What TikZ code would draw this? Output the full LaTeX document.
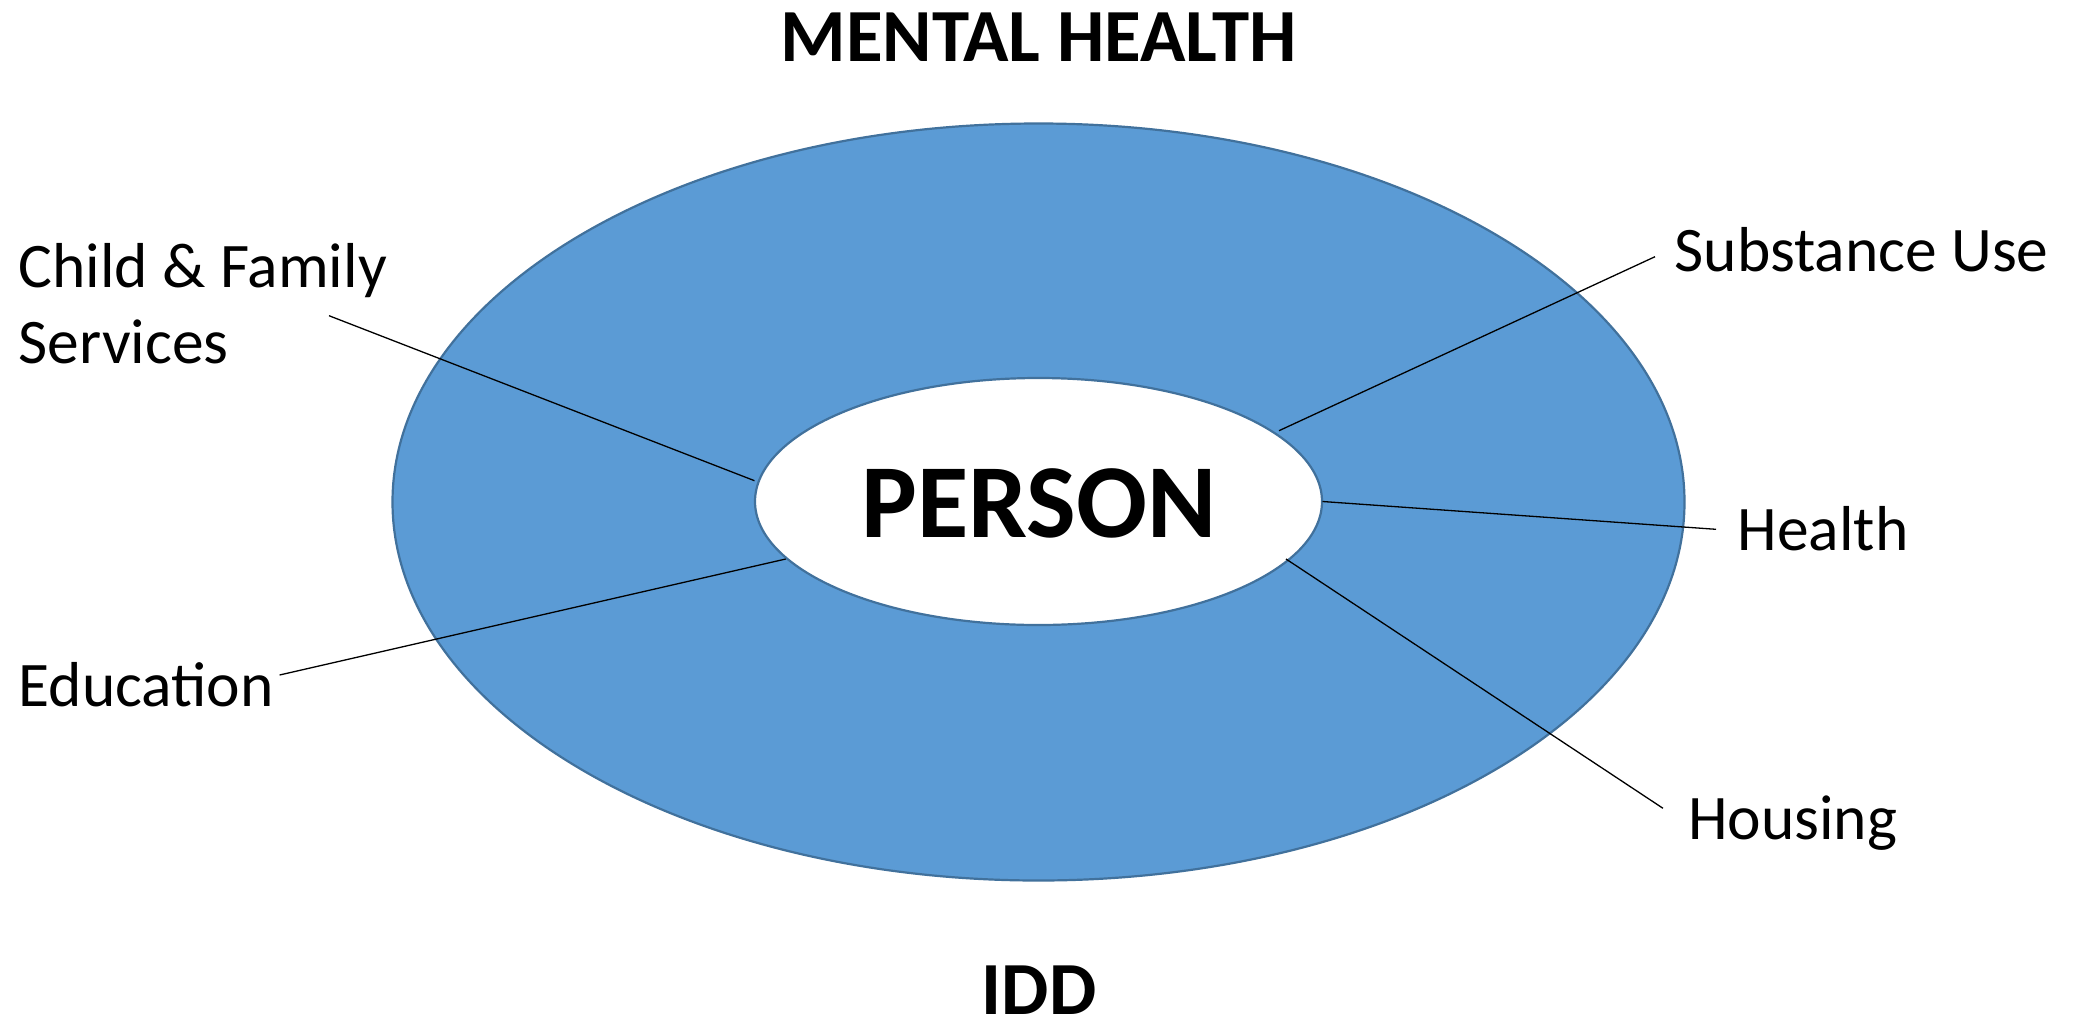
\documentclass[tikz,border=0pt]{standalone}
\usepackage{fontspec}
\setmainfont{Carlito}
\usetikzlibrary{shapes.geometric}
\definecolor{ringblue}{HTML}{5B9BD5}
\definecolor{ringedge}{HTML}{41719C}
\begin{document}
\begin{tikzpicture}[x=1pt,y=-1pt,
  ring/.style={ellipse, draw=ringedge, line width=2.2pt, fill=ringblue, minimum width=1292pt, minimum height=757pt, inner sep=0pt},
  hole/.style={ellipse, draw=ringedge, line width=2.2pt, fill=white, minimum width=567pt, minimum height=247pt, inner sep=0pt},
  title/.style={font=\fontsize{75}{90}\selectfont\bfseries, inner sep=0pt, anchor=base},
  centre/.style={font=\fontsize{105}{120}\selectfont\bfseries, inner sep=0pt, anchor=base},
  lbl/.style={font=\fontsize{63.5}{75.6}\selectfont, inner sep=0pt, anchor=base west, align=left},
  leader/.style={draw=black, line width=1.3pt}]
\useasboundingbox (0,0) rectangle (2080,1018);
\fill[white] (0,0) rectangle (2080,1018);
\node[ring] (ring) at (1038.5,502) {};
\node[hole] (hole) at (1038.5,501.5) {};
\node[centre] (person) at (1039,537) {PERSON};
\node[title] (mh) at (1038.5,61) {MENTAL HEALTH};
\node[title] (idd) at (1039,1014) {IDD};
\node[lbl] (child) at (18.5,287) {Child \& Family};
\node[lbl] (serv) at (18.5,363) {Services};
\node[lbl] (subst) at (1674.5,271) {Substance Use};
\node[lbl] (health) at (1737.5,550) {Health};
\node[lbl] (edu) at (18.5,706) {Education};
\node[lbl] (house) at (1688,839.5) {Housing};
\coordinate (childA) at (329,315.7);
\coordinate (childB) at (754.5,480.7);
\coordinate (substA) at (1655,256.7);
\coordinate (substB) at (1279,430.7);
\coordinate (healthA) at (1716,529.3);
\coordinate (healthB) at (1322.5,501.5);
\coordinate (houseA) at (1663,808.3);
\coordinate (houseB) at (1286,559);
\coordinate (eduA) at (279.6,675);
\coordinate (eduB) at (785.7,559);
\draw[leader] (childA) -- (childB);
\draw[leader] (substA) -- (substB);
\draw[leader] (healthA) -- (healthB);
\draw[leader] (houseA) -- (houseB);
\draw[leader] (eduA) -- (eduB);
\end{tikzpicture}
\end{document}
